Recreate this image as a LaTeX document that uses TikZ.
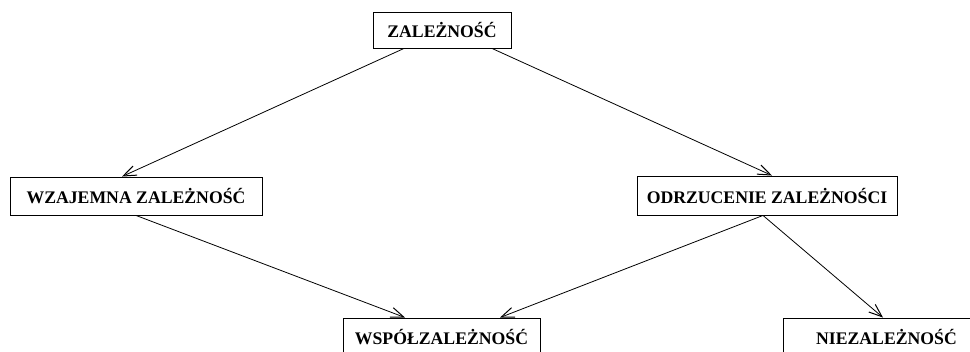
\documentclass[tikz,border=0pt]{standalone}
\usepackage{fontspec}
\setmainfont{Liberation Serif}
\usetikzlibrary{arrows.meta}
\tikzset{>={Straight Barb[length=13pt, width=10pt, line width=1pt]}}
\tikzset{pole/.style={draw, line width=.9pt, inner sep=0pt, font=\fontsize{17.7}{20}\selectfont\bfseries}}

\begin{document}
\begin{tikzpicture}[x=1pt, y=-1pt, line width=.8pt]
    \useasboundingbox (0, 0) rectangle (970, 352);
    \node[pole, minimum width=138pt, minimum height=36pt](zal) at (442, 30){ZALEŻNOŚĆ};
    \node[pole, minimum width=252pt, minimum height=38pt](wzaj) at (136, 196){WZAJEMNA ZALEŻNOŚĆ};
    \node[pole, minimum width=260pt, minimum height=39pt](odrz) at (767, 195.5){ODRZUCENIE ZALEŻNOŚCI};
    \node[pole, minimum width=197pt, minimum height=38pt](wsp) at (441.5, 337){WSPÓŁZALEŻNOŚĆ};
    \node[pole, minimum width=207pt, minimum height=38pt](niez) at (886.5, 337){NIEZALEŻNOŚĆ};
    \draw[->]([xshift=-38pt]zal.south)--([xshift=-14pt]wzaj.north);
    \draw[->]([xshift=50pt]zal.south)--([xshift=5pt]odrz.north);
    \draw[->](wzaj.south)--([xshift=-36.5pt]wsp.north);
    \draw[->]([xshift=-4pt]odrz.south)--([xshift=58.5pt]wsp.north);
    \draw[->]([xshift=-4pt]odrz.south)--([xshift=-3.5pt]niez.north);
\end{tikzpicture}
\end{document}
